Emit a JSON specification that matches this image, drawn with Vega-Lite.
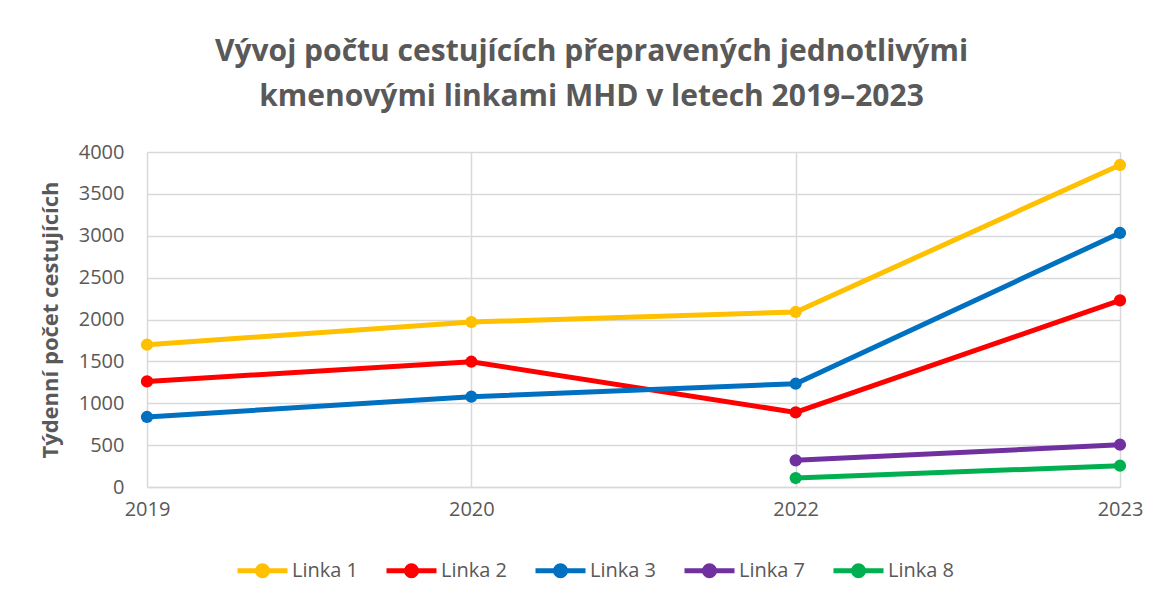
{
  "$schema": "https://vega.github.io/schema/vega-lite/v6.json",
  "autosize": "none",
  "padding": {"left": 147, "top": 152, "right": 44, "bottom": 112},
  "width": 973,
  "height": 335,
  "background": "white",
  "title": {
    "text": ["Vývoj počtu cestujících přepravených jednotlivými", "kmenovými linkami MHD v letech 2019–2023"],
    "font": "Open Sans",
    "fontSize": 30,
    "fontWeight": "bold",
    "color": "#595959",
    "anchor": "middle",
    "dx": -42,
    "offset": 30,
    "lineHeight": 45
  },
  "data": {
    "values": [
      {"rok": "2019", "linka": "Linka 1", "pocet": 1699},
      {"rok": "2020", "linka": "Linka 1", "pocet": 1970},
      {"rok": "2022", "linka": "Linka 1", "pocet": 2090},
      {"rok": "2023", "linka": "Linka 1", "pocet": 3845},
      {"rok": "2019", "linka": "Linka 2", "pocet": 1261},
      {"rok": "2020", "linka": "Linka 2", "pocet": 1496},
      {"rok": "2022", "linka": "Linka 2", "pocet": 891},
      {"rok": "2023", "linka": "Linka 2", "pocet": 2228},
      {"rok": "2019", "linka": "Linka 3", "pocet": 836},
      {"rok": "2020", "linka": "Linka 3", "pocet": 1078},
      {"rok": "2022", "linka": "Linka 3", "pocet": 1233},
      {"rok": "2023", "linka": "Linka 3", "pocet": 3033},
      {"rok": "2022", "linka": "Linka 7", "pocet": 318},
      {"rok": "2023", "linka": "Linka 7", "pocet": 505},
      {"rok": "2022", "linka": "Linka 8", "pocet": 107},
      {"rok": "2023", "linka": "Linka 8", "pocet": 254}
    ]
  },
  "encoding": {
    "x": {
      "field": "rok",
      "type": "ordinal",
      "scale": {"type": "point", "padding": 0, "domain": ["2019", "2020", "2022", "2023"]},
      "axis": {
        "title": null,
        "labelAngle": 0,
        "labelFont": "Open Sans",
        "labelFontSize": 20,
        "labelColor": "#595959",
        "labelPadding": 12,
        "ticks": false,
        "domainColor": "#d9d9d9",
        "domainWidth": 1.5,
        "grid": true,
        "gridColor": "#d9d9d9",
        "gridWidth": 1.5
      }
    },
    "y": {
      "field": "pocet",
      "type": "quantitative",
      "scale": {"domain": [0, 4000], "nice": false},
      "axis": {
        "title": "Týdenní počet cestujících",
        "titleFont": "Open Sans",
        "titleFontSize": 22,
        "titleFontWeight": "bold",
        "titleColor": "#595959",
        "titlePadding": 16,
        "values": [0, 500, 1000, 1500, 2000, 2500, 3000, 3500, 4000],
        "format": "d",
        "labelFont": "Open Sans",
        "labelFontSize": 20,
        "labelColor": "#595959",
        "labelPadding": 23,
        "ticks": false,
        "domain": false,
        "gridColor": "#d9d9d9",
        "gridWidth": 1.5
      }
    },
    "color": {
      "field": "linka",
      "type": "nominal",
      "scale": {
        "domain": ["Linka 1", "Linka 2", "Linka 3", "Linka 7", "Linka 8"],
        "range": ["#FFC000", "#FF0000", "#0070C0", "#7030A0", "#00B050"]
      },
      "legend": {
        "title": null,
        "orient": "none",
        "direction": "horizontal",
        "legendX": 88,
        "legendY": 391,
        "labelFont": "Open Sans",
        "labelFontSize": 20,
        "labelColor": "#595959",
        "labelOffset": 2,
        "columnPadding": 17,
        "symbolType": "M-1,0H1M-0.2,0A0.2,0.2 0 1,0 0.2,0A0.2,0.2 0 1,0 -0.2,0Z",
        "symbolSize": 2500,
        "symbolStrokeWidth": 5,
        "symbolOpacity": 1
      }
    }
  },
  "layer": [
    {
      "mark": {"type": "line", "strokeWidth": 5, "strokeCap": "round"},
      "encoding": {"detail": {"field": "linka"}}
    },
    {
      "mark": {"type": "point", "filled": true, "size": 150, "opacity": 1}
    }
  ],
  "config": {
    "view": {"stroke": null}
  }
}
